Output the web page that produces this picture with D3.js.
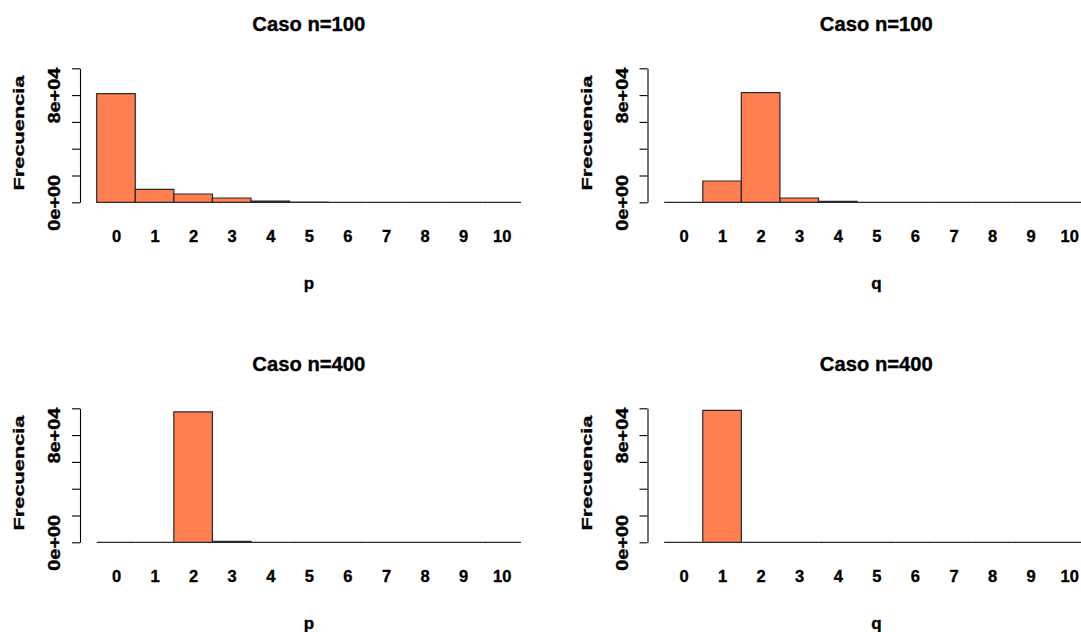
<!DOCTYPE html>
<html>
<head>
<meta charset="utf-8">
<script src="https://cdn.jsdelivr.net/npm/d3@7"></script>
<style>
  html, body { margin: 0; padding: 0; background: #fff; }
  svg { display: block; }
  text { font-family: "Liberation Sans", Arial, sans-serif; font-weight: bold; fill: #000; stroke: #000; stroke-width: 0.35px; }
</style>
</head>
<body>
<svg id="chart" width="1081" height="632"></svg>
<script>
// ---- data ----
const bins = [0, 1, 2, 3, 4, 5, 6, 7, 8, 9, 10];
const binLabels = ["0", "1", "2", "3", "4", "5", "6", "7", "8", "9", "10"];
const pCaso100 = [81100, 9700, 6200, 3200, 900, 80, 0, 0, 0, 0, 0];
const qCaso100 = [0, 15900, 81900, 3200, 700, 50, 0, 0, 0, 0, 0];
const pCaso400 = [0, 0, 97300, 700, 0, 0, 0, 0, 0, 0, 0];
const qCaso400 = [0, 98500, 0, 0, 0, 0, 0, 0, 0, 0, 0];
const yTicks = [0, 20000, 40000, 60000, 80000, 100000];
const yTickLabels = ["0e+00", "", "", "", "8e+04", ""];
const titles = ["Caso n=100", "Caso n=100", "Caso n=400", "Caso n=400"];
const xLabels = ["p", "q", "p", "q"];
const yLabel = "Frecuencia";

// ---- layout ----
const panels = [
  { dx: 0,     dy: 0,   values: pCaso100, title: titles[0], xlab: xLabels[0] },
  { dx: 567.5, dy: 0,   values: qCaso100, title: titles[1], xlab: xLabels[1] },
  { dx: 0,     dy: 340, values: pCaso400, title: titles[2], xlab: xLabels[2] },
  { dx: 567.5, dy: 340, values: qCaso400, title: titles[3], xlab: xLabels[3] }
];

const svg = d3.select("#chart");
svg.append("rect").attr("width", 1081).attr("height", 632).attr("fill", "#fff");

const x = d3.scaleLinear().domain([-0.5, 10.5]).range([96.7, 521]);
const y = d3.scaleLinear().domain([0, 100000]).range([202.3, 68.3]);

panels.forEach(p => {
  const g = svg.append("g").attr("transform", `translate(${p.dx},${p.dy})`);

  // bars (drawn as paths so zero-height bins still show their outline)
  g.selectAll("path.bar")
    .data(bins.map((b, i) => ({ b, v: p.values[i] })))
    .join("path")
    .attr("class", "bar")
    .attr("d", d => {
      const pa = d3.path();
      pa.moveTo(x(d.b - 0.5), y(0));
      pa.lineTo(x(d.b - 0.5), y(d.v));
      pa.lineTo(x(d.b + 0.5), y(d.v));
      pa.lineTo(x(d.b + 0.5), y(0));
      pa.closePath();
      return pa.toString();
    })
    .attr("fill", "#FF7F50")
    .attr("stroke", "#2a2a2a")
    .attr("stroke-width", 1.2)
    .attr("stroke-linejoin", "miter");

  // y axis
  const ya = g.append("g")
    .attr("transform", "translate(80,0)")
    .call(d3.axisLeft(y).tickValues(yTicks).tickSize(8).tickSizeOuter(0)
      .tickFormat((d, i) => yTickLabels[i]));
  ya.select(".domain").attr("stroke", "#000").attr("stroke-width", 1.1);
  ya.selectAll(".tick line").attr("stroke", "#000").attr("stroke-width", 1.1);
  ya.selectAll(".tick text")
    .attr("x", null).attr("y", null).attr("dy", null)
    .attr("transform", "translate(-20,0) rotate(-90)")
    .attr("text-anchor", "middle")
    .attr("font-size", 16)
    .attr("font-family", null)
    .attr("fill", "#000")
    .each(function () {
      if (this.textContent) {
        d3.select(this).attr("textLength", 56).attr("lengthAdjust", "spacingAndGlyphs");
      }
    });

  // x tick labels (no axis line)
  const xa = g.append("g")
    .attr("transform", "translate(0,242)")
    .call(d3.axisBottom(x).tickValues(bins).tickSize(0)
      .tickFormat((d, i) => binLabels[i]));
  xa.select(".domain").remove();
  xa.selectAll(".tick text")
    .attr("y", 0).attr("dy", null)
    .attr("font-size", 16.5)
    .attr("font-family", null)
    .attr("fill", "#000");

  // title
  g.append("text")
    .attr("x", x(5)).attr("y", 31)
    .attr("text-anchor", "middle")
    .attr("font-size", 21)
    .attr("textLength", 113)
    .attr("lengthAdjust", "spacingAndGlyphs")
    .text(p.title);

  // x label
  g.append("text")
    .attr("x", x(5)).attr("y", 289)
    .attr("text-anchor", "middle")
    .attr("font-size", 17)
    .text(p.xlab);

  // y label
  g.append("text")
    .attr("transform", "translate(24,133) rotate(-90)")
    .attr("text-anchor", "middle")
    .attr("font-size", 15)
    .attr("textLength", 115)
    .attr("lengthAdjust", "spacingAndGlyphs")
    .text(yLabel);
});
</script>
</body>
</html>
